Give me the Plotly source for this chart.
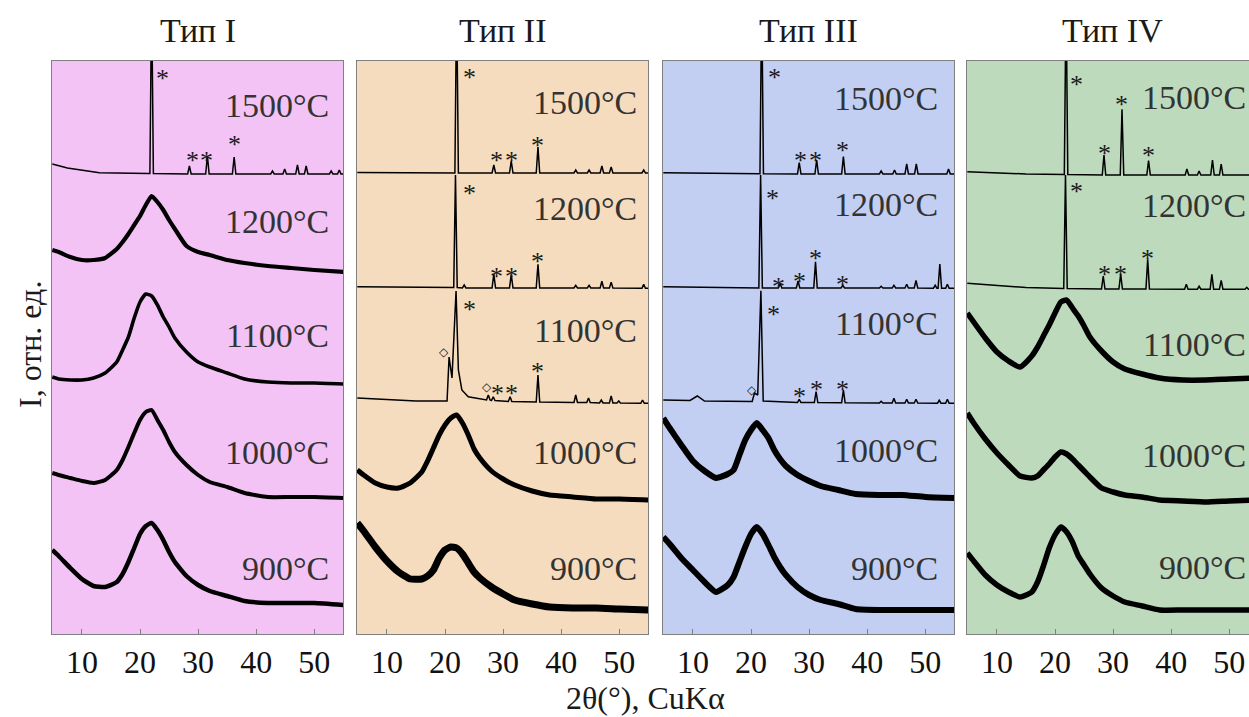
import plotly.graph_objects as go

# ---------------------------------------------------------------------------
# Data: XRD patterns (CuKα), intensity in arbitrary units above each stack offset
# ---------------------------------------------------------------------------
TEMPS = ["900°C", "1000°C", "1100°C", "1200°C", "1500°C"]
PANEL_TITLES = ["Тип I", "Тип II", "Тип III", "Тип IV"]
X_TICKS = [10, 20, 30, 40, 50]

# 2θ grid (degrees) of the amorphous (halo) patterns
TT = [4.9, 6, 8, 10, 12, 14, 16, 17, 18, 19, 20, 21, 22, 23, 24, 25, 26, 28, 30, 32, 35, 38, 42, 46, 50, 55]

# --- Тип I ---
I1_900 = [84, 78, 66, 55, 48, 47, 52, 60, 72, 86, 100, 108, 111, 104, 94, 82, 72, 58, 49, 43, 38, 33, 31, 31, 31, 29]
I1_1000 = [51, 49, 46, 43, 41, 44, 54, 64, 77, 91, 104, 112, 114, 104, 94, 82, 72, 59, 49, 42, 37, 31, 27, 27, 27, 26]
I1_1100 = [37, 35, 34, 34, 36, 41, 52, 64, 77, 96, 112, 120, 118, 109, 97, 87, 76, 62, 52, 47, 41, 35, 32, 31, 31, 30]
I1_1200 = [54, 52, 47, 44, 44, 46, 55, 62, 70, 79, 88, 99, 108, 102, 94, 84, 75, 58, 52, 49, 44, 41, 38, 36, 34, 32]
I1_1500_BASE = [(4.9, 30), (7.5, 26), (11, 23), (13, 21.3), (21.5, 20.5), (30, 20), (55, 20)]
I1_1500_PEAKS = [(22.0, 200, 20.5), (28.5, 28, 20), (31.6, 38, 20), (36.2, 37, 20), (42.8, 23, 20),
                 (44.9, 25, 20), (47.1, 29, 20), (48.6, 28, 20), (52.9, 23, 20), (54.3, 24, 20)]

# --- Тип II ---
I2_900 = [111, 103, 87, 73, 62, 55, 55, 58, 64, 76, 84, 87, 86, 80, 71, 62, 56, 47, 40, 34, 30, 27, 26, 26, 25, 24]
I2_1000 = [54, 49, 41, 37, 36, 41, 52, 63, 76, 89, 99, 106, 109, 101, 89, 75, 66, 53, 45, 39, 33, 29, 27, 25, 25, 24]
I2_1100_BASE = [(4.9, 16), (10, 14.5), (15, 13), (20.35, 13), (20.7, 57), (21.2, 36), (21.9, 123), (22.3, 44),
                (22.9, 24), (24, 17.3), (26.3, 15), (30, 12.5), (40, 11.5), (55, 10.7)]
I2_1100_PEAKS = [(27.45, 19, 14), (28.3, 17.3, 13.5), (31.2, 17.3, 12.5), (36.0, 39, 12), (42.5, 19, 11.5),
                 (44.7, 16, 11.5), (46.9, 14, 11), (48.6, 18, 11), (49.9, 13, 11), (54.0, 14, 10.7)]
I2_1200_BASE = [(4.9, 17.3), (15, 16.5), (30, 16), (55, 15.7)]
I2_1200_PEAKS = [(21.8, 129, 16.5), (23.3, 19, 16), (28.4, 30, 16), (31.4, 29.7, 16), (36.0, 39.7, 16),
                 (42.5, 18.7, 16), (44.8, 18.7, 16), (47.0, 22.7, 16), (48.6, 21.7, 16), (54.2, 19.7, 15.7)]
I2_1500_BASE = [(4.9, 21.5), (15, 21), (55, 21)]
I2_1500_PEAKS = [(22.0, 200, 21), (28.4, 29, 21), (31.4, 33, 21), (36.0, 47, 21), (42.5, 24, 21),
                 (44.8, 24, 21), (47.0, 28, 21), (48.6, 27, 21), (54.2, 24, 21)]

# --- Тип III ---
I3_900 = [97, 90, 76, 64, 52, 42, 49, 57, 72, 87, 100, 107, 100, 89, 77, 67, 59, 47, 39, 34, 30, 25, 24, 24, 24, 24]
I3_1000 = [106, 96, 79, 63, 53, 46, 50, 54, 69, 84, 94, 101, 94, 86, 74, 65, 58, 49, 43, 38, 34, 30, 29, 29, 27, 26]
I3_1100_BASE = [(4.9, 14), (9.5, 13.5), (10.75, 18), (12, 13), (20.2, 12.5), (20.6, 21), (21.15, 19),
                (21.7, 123.3), (22.1, 13), (25, 12), (55, 10.7)]
I3_1100_PEAKS = [(28.3, 14.7, 11.5), (31.2, 22.3, 11.5), (35.9, 24, 11.3), (42.4, 12.7, 11), (44.6, 15.7, 11),
                 (46.8, 14.7, 11), (48.4, 14.7, 11), (52.4, 13.7, 10.8), (53.8, 14.7, 10.7)]
I3_1200_BASE = [(4.9, 17.3), (15, 16.3), (55, 15.7)]
I3_1200_PEAKS = [(21.65, 129, 16), (25.0, 20.7, 16), (28.1, 23, 16), (31.1, 42.3, 16), (35.8, 18.7, 16),
                 (42.4, 17.7, 16), (44.6, 18.7, 16), (46.8, 19.7, 16), (48.4, 23.7, 16), (51.7, 18.7, 15.8),
                 (52.5, 40, 15.8), (53.8, 19.7, 15.7)]
I3_1500_BASE = [(4.9, 21.3), (15, 20.5), (55, 20)]
I3_1500_PEAKS = [(21.84, 200, 20.3), (28.3, 31.3, 20), (31.3, 34, 20), (35.9, 37.3, 20), (42.4, 23, 20),
                 (44.7, 24, 20), (46.8, 30, 20), (48.45, 30, 20), (54.0, 25, 20)]

# --- Тип IV ---
I4_900 = [81, 73, 59, 49, 42, 37, 42, 52, 68, 86, 99, 107, 102, 92, 78, 69, 60, 46, 38, 32, 28, 24, 24, 24, 24, 24]
I4_1000 = [111, 101, 85, 71, 59, 48, 46, 48, 54, 60, 67, 72, 70, 65, 59, 53, 47, 36, 32, 29, 27, 24, 23, 22, 23, 24]
I4_1100 = [101, 92, 76, 62, 53, 47, 58, 67, 78, 89, 101, 112, 114, 106, 98, 88, 77, 63, 52, 45, 40, 36, 34, 34, 35, 36]
I4_1200_BASE = [(4.9, 20.7), (15, 16.5), (55, 14.7)]
I4_1200_PEAKS = [(21.8, 129, 15.5), (28.3, 28, 15), (31.3, 30, 15), (35.95, 44.7, 15), (42.6, 19.7, 14.8),
                 (44.8, 17.7, 14.8), (47.0, 29.7, 14.8), (48.6, 23.7, 14.8), (53.0, 16.7, 14.7)]
I4_1500_BASE = [(4.9, 22.3), (15, 20), (55, 19)]
I4_1500_PEAKS = [(21.9, 200, 19.5), (28.43, 39, 19), (31.53, 84.7, 19), (36.1, 33.3, 19), (42.7, 25, 19),
                 (44.8, 23, 19), (47.1, 34, 19), (48.6, 30, 19)]

# Phase marks: (2θ, height in stacked units, symbol)
MARKS_1 = [(23.95, 562, "*"), (28.95, 480, "*"), (31.5, 480, "*"), (36.2, 496, "*")]
MARKS_2 = [(24.18, 563, "*"), (28.9, 480, "*"), (31.4, 480, "*"), (36.0, 495, "*"),
           (24.18, 447, "*"), (28.9, 364, "*"), (31.4, 364, "*"), (36.0, 379, "*"),
           (24.18, 331, "*"), (19.82, 282, "◇"), (27.17, 247, "◇"), (29.0, 247, "*"), (31.4, 247, "*"),
           (36.0, 269, "*")]
MARKS_3 = [(24.0, 563, "*"), (28.6, 480, "*"), (31.13, 480, "*"), (35.8, 490, "*"),
           (23.66, 442, "*"), (24.8, 354, "*"), (28.3, 359, "*"), (31.13, 382, "*"), (35.7, 356, "*"),
           (23.83, 326, "*"), (20.2, 244, "◇"), (28.3, 244, "*"), (31.3, 251, "*"), (35.8, 251, "*")]
MARKS_4 = [(23.73, 556, "*"), (28.48, 487, "*"), (31.4, 536, "*"), (36.1, 485, "*"),
           (23.73, 449, "*"), (28.48, 366, "*"), (31.2, 366, "*"), (35.95, 382, "*")]

# ---------------------------------------------------------------------------
# Layout constants
# ---------------------------------------------------------------------------
W, H = 1249, 717
STACK = {"900°C": 0, "1000°C": 110, "1100°C": 220, "1200°C": 330, "1500°C": 440}
Y_RANGE = [0, 573]
X_RANGE = [4.85, 54.94]
PANEL_LEFT = [52, 357, 663, 967]
PANEL_W = 291
PX_PER_DEG = 5.81
TOP_PX, BOTTOM_PX = 61, 634
BG = ["#F3C3F6", "#F6DCBE", "#C3CFF2", "#BDDABD"]
SERIF = "Liberation Serif, Times New Roman, serif"
# Temperature label centres (px from top) per panel and right-hand inset (px)
LABEL_Y = [
    [568, 452, 335, 221, 105],
    [568, 452, 330, 208, 102],
    [568, 450, 323, 204, 98],
    [567, 455, 344, 205, 97],
]
LABEL_INSET = [12, 9, 14, 12]


def crystalline(base, peaks, hw=0.3):
    pts = list(base)
    for pos, top, foot in peaks:
        pts += [(pos - hw, foot), (pos, top), (pos + hw, foot)]
    pts.sort()
    return [p[0] for p in pts], [p[1] for p in pts]


def stacked(vals, temp):
    return [v + STACK[temp] for v in vals]


fig = go.Figure()

panels = [
    {"halo": {"900°C": (I1_900, 4.5), "1000°C": (I1_1000, 4.0), "1100°C": (I1_1100, 3.6), "1200°C": (I1_1200, 4.2)},
     "cryst": {"1500°C": (I1_1500_BASE, I1_1500_PEAKS)}, "marks": MARKS_1},
    {"halo": {"900°C": (I2_900, 7.0), "1000°C": (I2_1000, 5.0)},
     "cryst": {"1100°C": (I2_1100_BASE, I2_1100_PEAKS), "1200°C": (I2_1200_BASE, I2_1200_PEAKS),
               "1500°C": (I2_1500_BASE, I2_1500_PEAKS)}, "marks": MARKS_2},
    {"halo": {"900°C": (I3_900, 6.0), "1000°C": (I3_1000, 6.0)},
     "cryst": {"1100°C": (I3_1100_BASE, I3_1100_PEAKS), "1200°C": (I3_1200_BASE, I3_1200_PEAKS),
               "1500°C": (I3_1500_BASE, I3_1500_PEAKS)}, "marks": MARKS_3},
    {"halo": {"900°C": (I4_900, 5.5), "1000°C": (I4_1000, 5.5), "1100°C": (I4_1100, 5.5)},
     "cryst": {"1200°C": (I4_1200_BASE, I4_1200_PEAKS), "1500°C": (I4_1500_BASE, I4_1500_PEAKS)},
     "marks": MARKS_4},
]

y_dom = [(H - BOTTOM_PX) / H, (H - TOP_PX) / H]
annotations = []
shapes = []

for i, p in enumerate(panels):
    n = i + 1
    suffix = "" if n == 1 else str(n)
    xa, ya = f"x{suffix}", f"y{suffix}"
    for temp, (vals, lw) in p["halo"].items():
        fig.add_trace(go.Scatter(x=TT, y=stacked(vals, temp), mode="lines", xaxis=xa, yaxis=ya,
                                 line=dict(color="#000000", width=lw, shape="spline", smoothing=0.5),
                                 showlegend=False, hoverinfo="skip"))
    for temp, (base, peaks) in p["cryst"].items():
        xs, ys = crystalline(base, peaks)
        fig.add_trace(go.Scatter(x=xs, y=stacked(ys, temp), mode="lines", xaxis=xa, yaxis=ya,
                                 line=dict(color="#000000", width=1.5),
                                 showlegend=False, hoverinfo="skip"))
    for (tx, ty, sym) in p["marks"]:
        star = sym == "*"
        annotations.append(dict(x=tx, y=ty, xref=xa, yref=ya, text=sym, showarrow=False,
                                font=dict(family=SERIF if star else "DejaVu Sans", size=26 if star else 12,
                                          color="#1a1a1a"),
                                yshift=-6 if star else 0))
    # temperature labels
    left = PANEL_LEFT[i]
    label_x = X_RANGE[0] + (PANEL_W - LABEL_INSET[i]) / PX_PER_DEG
    if i == 3:
        label_x = X_RANGE[0] + (1248 - left) / PX_PER_DEG
    for temp, ypx in zip(TEMPS, LABEL_Y[i]):
        annotations.append(dict(x=label_x, y=BOTTOM_PX - ypx, xref=xa, yref=ya, text=temp,
                                showarrow=False, xanchor="right", yanchor="middle",
                                font=dict(family=SERIF, size=34, color="#333333")))
    # panel title
    right = min(left + PANEL_W, W)
    annotations.append(dict(x=(left + left + PANEL_W) / 2 / W, y=(H - 30) / H, xref="paper", yref="paper",
                            text=PANEL_TITLES[i], showarrow=False, xanchor="center", yanchor="middle",
                            font=dict(family=SERIF, size=34, color="#1a1a1a")))
    shapes.append(dict(type="rect", xref=f"{xa} domain", yref=f"{ya} domain", x0=0, x1=1, y0=0, y1=1,
                       fillcolor=BG[i], line=dict(width=0), layer="below"))

    x_end = X_RANGE[1] if i < 3 else X_RANGE[0] + (W - left) / PX_PER_DEG
    fig.update_layout(**{
        f"xaxis{suffix}": dict(domain=[left / W, right / W], range=[X_RANGE[0], x_end], anchor=ya,
                               tickvals=X_TICKS, ticks="inside", ticklen=5, tickcolor="#808080",
                               showline=True, linecolor="#808080", linewidth=1, mirror=True,
                               showgrid=False, zeroline=False, ticklabelstandoff=0,
                               tickfont=dict(family=SERIF, size=32, color="#111111")),
        f"yaxis{suffix}": dict(domain=y_dom, range=Y_RANGE, anchor=xa, showticklabels=False, ticks="",
                               showline=True, linecolor="#808080", linewidth=1, mirror=(i < 3),
                               showgrid=False, zeroline=False),
    })

annotations.append(dict(x=645 / W, y=0, xref="paper", yref="paper", text="2θ(°), CuKα",
                        showarrow=False, xanchor="center", yanchor="bottom", borderpad=0,
                        font=dict(family=SERIF, size=32, color="#1a1a1a")))
annotations.append(dict(x=30 / W, y=(H - 345) / H, xref="paper", yref="paper", text="I, отн. ед.",
                        showarrow=False, textangle=-90, xanchor="center", yanchor="middle",
                        font=dict(family=SERIF, size=32, color="#1a1a1a")))

fig.update_layout(width=W, height=H, margin=dict(l=0, r=0, t=0, b=0),
                  paper_bgcolor="white", plot_bgcolor="rgba(0,0,0,0)",
                  annotations=annotations, shapes=shapes, showlegend=False)

fig.write_html("out.html")
